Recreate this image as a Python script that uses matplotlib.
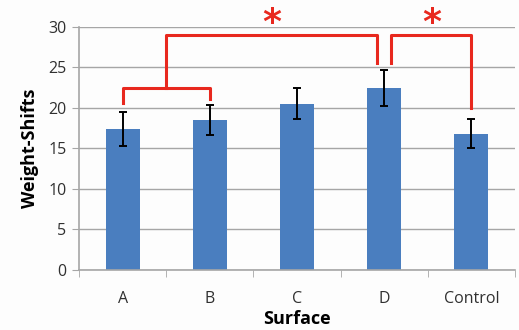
import matplotlib.pyplot as plt
import numpy as np

# data
surfaces = ["A", "B", "C", "D", "Control"]
weight_shifts = [17.4, 18.5, 20.5, 22.4, 16.8]
errors = [2.1, 1.8, 1.9, 2.2, 1.8]

# significance brackets (heights in data units)
ab_leg_a, ab_leg_b, ab_top = 20.6, 21.1, 22.4
d_leg, ctrl_leg, top_line = 25.5, 20.0, 29.0
star_y = 30.4

blue = "#4A7EBF"
red = "#E8281E"
grid_col = "#A6A6A6"

fig = plt.figure(figsize=(5.19, 3.30), dpi=100, facecolor="#FDFDFD")
ax = fig.add_axes([79 / 519, 60 / 330, 436 / 519, 243.3 / 330])
ax.set_facecolor("#FDFDFD")

x = np.arange(len(surfaces))
ax.bar(x, weight_shifts, width=0.39, color=blue, zorder=2)
ax.errorbar(x, weight_shifts, yerr=errors, fmt="none", ecolor="black",
            elinewidth=1.4, capsize=3, capthick=1.4, zorder=3)

ax.set_xlim(-0.5, 4.5)
ax.set_ylim(0, 30)
ax.set_yticks(range(0, 31, 5))
ax.yaxis.grid(True, color=grid_col, linewidth=1)
ax.set_axisbelow(True)

ax.set_xticks(x)
ax.set_xticklabels(surfaces)
ax.set_xticks(np.arange(-0.5, 5, 1), minor=True)
ax.tick_params(axis="x", which="major", length=0, pad=15)
ax.tick_params(axis="x", which="minor", length=5, color=grid_col)
ax.tick_params(axis="y", length=5, color=grid_col, pad=4)
for lab in ax.get_xticklabels():
    lab.set_fontfamily("Open Sans")
    lab.set_fontsize(11.5)
    lab.set_color("#303030")
for lab in ax.get_yticklabels():
    lab.set_fontfamily("Open Sans")
    lab.set_fontsize(11.5)
    lab.set_color("#303030")

for s in ["top", "right"]:
    ax.spines[s].set_visible(False)
for s in ["left", "bottom"]:
    ax.spines[s].set_color(grid_col)
    ax.spines[s].set_linewidth(1.2)

ax.set_ylabel("Weight-Shifts", fontsize=13, fontweight="bold",
              fontfamily="Open Sans", labelpad=7)
ax.set_xlabel("Surface", fontsize=13, fontweight="bold",
              fontfamily="Open Sans", labelpad=2)

# brackets
lw = 2.2
mid_ab = (x[0] + x[1]) / 2
ax.plot([x[0], x[0], x[1], x[1]], [ab_leg_a, ab_top, ab_top, ab_leg_b],
        color=red, lw=lw, clip_on=False, zorder=4)
d_left = x[3] - 0.08
d_right = x[3] + 0.08
ax.plot([mid_ab, mid_ab, d_left, d_left], [ab_top, top_line, top_line, d_leg],
        color=red, lw=lw, clip_on=False, zorder=4)
ax.plot([d_right, d_right, x[4], x[4]], [d_leg, top_line, top_line, ctrl_leg],
        color=red, lw=lw, clip_on=False, zorder=4)

ax.text((mid_ab + d_left) / 2, star_y, "*", color=red, fontsize=26,
        fontweight="bold", ha="center", va="center", clip_on=False)
ax.text((d_right + x[4]) / 2, star_y, "*", color=red, fontsize=26,
        fontweight="bold", ha="center", va="center", clip_on=False)

fig.savefig("out.png", dpi=100, facecolor=fig.get_facecolor())
